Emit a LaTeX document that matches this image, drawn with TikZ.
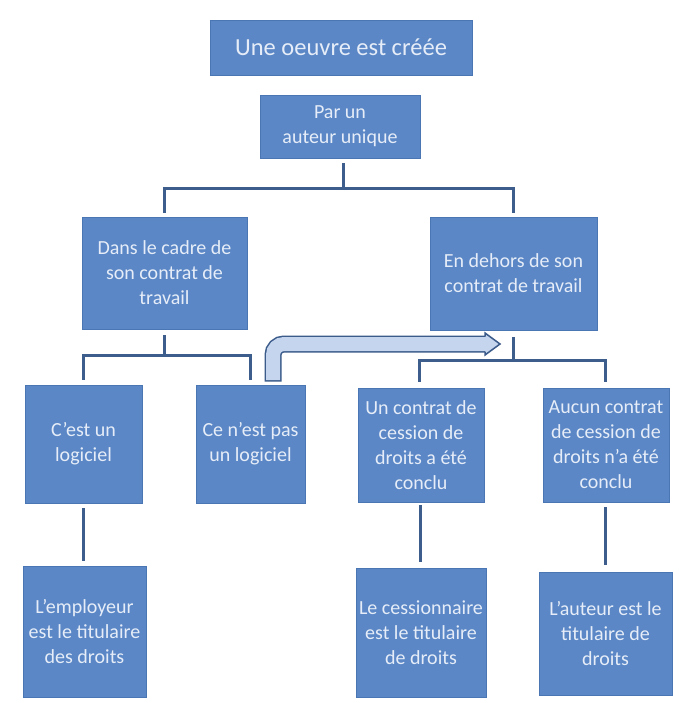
\documentclass[tikz,border=0pt]{standalone}
\usepackage{fontspec}
\setmainfont{Carlito}
\definecolor{boxfill}{HTML}{5B87C6}
\definecolor{boxline}{HTML}{4B76B4}
\definecolor{txt}{HTML}{E6EDF8}
\definecolor{connc}{HTML}{3D5D8C}
\definecolor{arrfill}{HTML}{C5D5EE}
\definecolor{arrline}{HTML}{3B5B8A}
\begin{document}
\begin{tikzpicture}[x=1pt,y=-1pt,
  box/.style={draw=boxline, line width=0.8pt, fill=boxfill, text=txt, align=center,
    inner sep=0pt, font=\fontsize{20}{25}\selectfont},
  conn/.style={draw=connc, line width=3pt}]
\useasboundingbox (0,0) rectangle (688,703);
\fill[white] (0,0) rectangle (688,703);
% nodes
\node[box, minimum width=262pt, minimum height=55pt, font=\fontsize{24.5}{28}\selectfont] (top) at (341,47.5) {Une oeuvre est créée};
\node[box, minimum width=160pt, minimum height=63pt] (auteur) at (340,126.5) {Par un\\auteur unique};
\node[box, minimum width=165pt, minimum height=112pt] (dans) at (164.5,273) {Dans le cadre de\\son contrat de\\travail};
\node[box, minimum width=167pt, minimum height=113pt] (dehors) at (513.5,273.5) {En dehors de son\\contrat de travail};
\node[box, minimum width=117pt, minimum height=118pt] (logi) at (83.5,444) {C'est un\\logiciel};
\node[box, minimum width=109pt, minimum height=118pt] (pasl) at (250.5,444) {Ce n'est pas\\un logiciel};
\node[box, minimum width=126pt, minimum height=114pt] (cess) at (421,445) {Un contrat de\\cession de\\droits a été\\conclu};
\node[box, minimum width=126pt, minimum height=114pt] (aucun) at (606,445) {Aucun contrat\\de cession de\\droits n'a été\\conclu};
\node[box, minimum width=123pt, minimum height=131pt] (emp) at (84.5,631.5) {L'employeur\\est le titulaire\\des droits};
\node[box, minimum width=130pt, minimum height=129pt] (cessio) at (421,632.5) {Le cessionnaire\\est le titulaire\\de droits};
\node[box, minimum width=133pt, minimum height=123pt] (auteurt) at (605.5,633.5) {L'auteur est le\\titulaire de\\droits};
% connectors
\coordinate (j1) at (343,189);
\draw[conn] ([xshift=3pt,yshift=-5pt]auteur.south) -- (j1);
\draw[conn] ([yshift=4pt]dans.north) |- (j1) -| ([yshift=4pt]dehors.north);
\coordinate (j2) at (164.5,355);
\draw[conn] ([yshift=-6pt]dans.south) -- (j2);
\draw[conn] ([yshift=5pt]logi.north) |- (j2) -| ([yshift=5pt]pasl.north);
\coordinate (j3) at (513.5,360);
\draw[conn] ([yshift=-7pt]dehors.south) -- (j3);
\draw[conn] ([xshift=-1.5pt,yshift=6pt]cess.north) |- (j3) -| ([xshift=-1pt,yshift=6pt]aucun.north);
\draw[conn] ([yshift=-5pt]logi.south) -- ([yshift=5pt]logi.south |- emp.north);
\draw[conn] ([xshift=-1pt,yshift=-3pt]cess.south) -- ([xshift=-1pt,yshift=6pt]cess.south |- cessio.north);
\draw[conn] ([xshift=-1pt,yshift=-5pt]aucun.south) -- ([xshift=-1pt,yshift=7pt]aucun.south |- auteurt.north);
% bent arrow
\coordinate (as) at ([xshift=22.5pt,yshift=3pt]pasl.north);
\coordinate (ah) at (485,344);
\draw[arrline, line width=17pt, rounded corners=11pt] (as) |- (ah);
\draw[arrfill, line width=14pt, rounded corners=11pt] ([yshift=1.5pt]as) |- ([xshift=1pt]ah);
\fill[arrfill] (485,333) -- (500,344) -- (485,355) -- cycle;
\draw[arrline, line width=1.5pt, line join=miter] (485,336.5) -- (485,333) -- (500,344) -- (485,355) -- (485,351.5);
\end{tikzpicture}
\end{document}
